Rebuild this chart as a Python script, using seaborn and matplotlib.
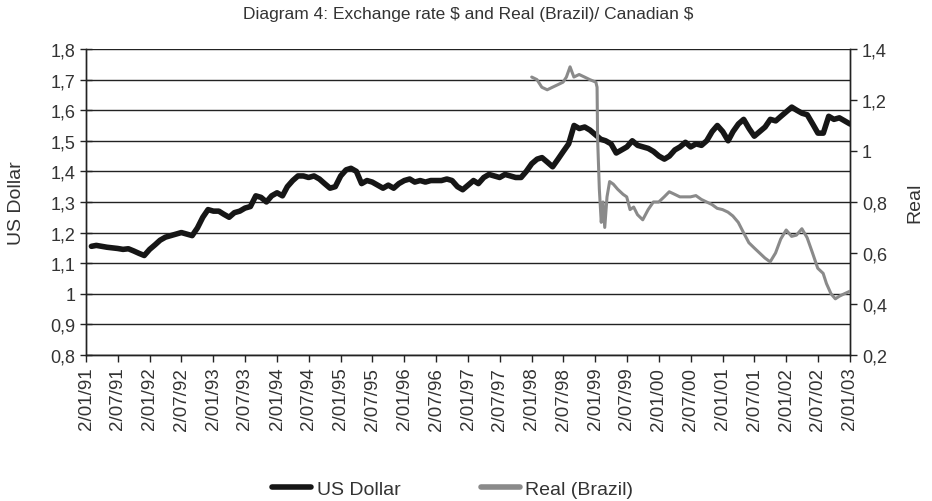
import pandas as pd
import numpy as np
import matplotlib
matplotlib.use("Agg")
import matplotlib.pyplot as plt
import matplotlib.ticker as mticker
import seaborn as sns

# monthly US dollar / Canadian $ values, Jan 1991 .. Jan 2003
usd_values = [
    1.155, 1.158, 1.155, 1.152, 1.150, 1.148, 1.145, 1.147, 1.140, 1.132, 1.125, 1.145,  # 1991
    1.160, 1.175, 1.185, 1.190, 1.195, 1.200, 1.195, 1.190, 1.215, 1.250, 1.275, 1.270,  # 1992
    1.270, 1.260, 1.250, 1.265, 1.270, 1.280, 1.285, 1.320, 1.315, 1.300, 1.320, 1.330,  # 1993
    1.320, 1.350, 1.370, 1.385, 1.385, 1.380, 1.385, 1.375, 1.360, 1.345, 1.350, 1.385,  # 1994
    1.405, 1.410, 1.400, 1.360, 1.370, 1.365, 1.355, 1.345, 1.355, 1.345, 1.360, 1.370,  # 1995
    1.375, 1.365, 1.370, 1.365, 1.370, 1.370, 1.370, 1.375, 1.370, 1.350, 1.340, 1.355,  # 1996
    1.370, 1.360, 1.380, 1.390, 1.385, 1.380, 1.390, 1.385, 1.380, 1.380, 1.400, 1.425,  # 1997
    1.440, 1.445, 1.430, 1.415, 1.440, 1.465, 1.490, 1.550, 1.540, 1.545, 1.535, 1.520,  # 1998
    1.505, 1.500, 1.490, 1.460, 1.470, 1.480, 1.500, 1.485, 1.480, 1.475, 1.465, 1.450,  # 1999
    1.440, 1.450, 1.470, 1.480, 1.495, 1.480, 1.490, 1.485, 1.500, 1.530, 1.550, 1.530,  # 2000
    1.500, 1.530, 1.555, 1.570, 1.540, 1.515, 1.530, 1.545, 1.570, 1.565, 1.580, 1.595,  # 2001
    1.610, 1.600, 1.590, 1.585, 1.555, 1.525, 1.525, 1.580, 1.570, 1.575, 1.565, 1.555,  # 2002
    1.550,                                                                              # 2003
]
usd_dates = pd.date_range("1991-01-02", periods=len(usd_values), freq="MS") + pd.Timedelta(days=1)

real_dates = [
    "1998-01-02", "1998-02-01", "1998-03-01", "1998-04-01", "1998-05-01", "1998-06-01",
    "1998-07-01", "1998-07-20", "1998-08-10", "1998-09-01", "1998-10-01", "1998-11-01",
    "1998-12-01", "1999-01-05", "1999-01-12", "1999-01-15", "1999-01-25", "1999-02-05",
    "1999-02-15", "1999-02-25", "1999-03-10", "1999-03-25", "1999-04-15", "1999-05-10",
    "1999-06-10", "1999-07-01", "1999-07-20", "1999-08-10", "1999-09-01", "1999-10-01",
    "1999-11-01", "1999-12-01", "2000-01-01", "2000-02-01", "2000-03-01", "2000-04-01",
    "2000-05-01", "2000-06-01", "2000-07-01", "2000-08-01", "2000-09-01", "2000-10-01",
    "2000-11-01", "2000-12-01", "2001-01-01", "2001-02-01", "2001-03-01", "2001-04-01",
    "2001-05-01", "2001-06-01", "2001-07-01", "2001-08-01", "2001-09-01", "2001-10-01",
    "2001-11-01", "2001-12-01", "2002-01-01", "2002-02-01", "2002-03-01", "2002-04-01",
    "2002-05-01", "2002-06-01", "2002-07-01", "2002-08-01", "2002-08-20", "2002-09-15",
    "2002-10-10", "2002-11-01", "2002-12-01", "2003-01-02",
]
real_values = [
    1.29, 1.28, 1.25, 1.24, 1.25, 1.26,
    1.27, 1.29, 1.33, 1.29, 1.30, 1.29,
    1.28, 1.27, 1.25, 1.05, 0.85, 0.72,
    0.80, 0.70, 0.82, 0.88, 0.87, 0.85,
    0.83, 0.82, 0.77, 0.78, 0.75, 0.73,
    0.77, 0.80, 0.80, 0.82, 0.84, 0.83,
    0.82, 0.82, 0.82, 0.825, 0.81, 0.80,
    0.79, 0.775, 0.77, 0.76, 0.745, 0.72,
    0.68, 0.64, 0.62, 0.60, 0.58, 0.565,
    0.60, 0.655, 0.69, 0.665, 0.67, 0.695,
    0.66, 0.60, 0.54, 0.52, 0.48, 0.44,
    0.42, 0.43, 0.44, 0.45,
]

usd_df = pd.DataFrame({"date": usd_dates, "value": usd_values})
real_df = pd.DataFrame({"date": pd.to_datetime(real_dates), "value": real_values})

sns.set_style("white")
plt.rcParams["font.family"] = ["Liberation Sans", "DejaVu Sans"]
text_col = "#333333"

fig = plt.figure(figsize=(9.32, 5.02), dpi=100)
ax = fig.add_axes([0.0923, 0.291, 0.8197, 0.6094])
ax2 = ax.twinx()

sns.lineplot(data=usd_df, x="date", y="value", ax=ax, color="#161616", lw=4, zorder=3)
sns.lineplot(data=real_df, x="date", y="value", ax=ax2, color="#8a8a8a", lw=2.2, zorder=3)

ax.set_ylim(0.8, 1.8)
ax.set_yticks(np.arange(0.8, 1.81, 0.1))
ax2.set_ylim(0.2, 1.4)
ax2.set_yticks(np.arange(0.2, 1.41, 0.2))
fmt = mticker.FuncFormatter(lambda v, p: f"{round(v, 2):g}".replace(".", ","))
ax.yaxis.set_major_formatter(fmt)
ax2.yaxis.set_major_formatter(fmt)

ax.yaxis.grid(True, color="#222222", lw=1)
ax.xaxis.grid(False)
ax.set_axisbelow(True)

tick_dates = pd.date_range("1991-01-01", "2003-01-01", freq="6MS") + pd.Timedelta(days=1)
ax.set_xlim(tick_dates[0], tick_dates[-1])
ax.set_xticks(tick_dates)
ax.set_xticklabels([f"{d.day}/{d.month:02d}/{d.year % 100:02d}" for d in tick_dates],
                   rotation=90)

for a in (ax, ax2):
    for s in a.spines.values():
        s.set_color("#222222")
        s.set_linewidth(1)
    a.spines["top"].set_visible(False)
    a.tick_params(axis="both", direction="out", length=5, width=1, color="#222222",
                  labelsize=13, labelcolor=text_col)
ax.tick_params(axis="y", direction="inout", length=8, left=True)
ax.tick_params(axis="x", labelsize=13.5, bottom=True)
ax2.tick_params(axis="y", right=True)

ax.set_xlabel("")
ax.set_ylabel("US Dollar", fontsize=14, color=text_col, labelpad=18)
ax2.set_xlabel("")
ax2.set_ylabel("Real", fontsize=14, color=text_col, labelpad=14)

ax.set_title(r"Diagram 4: Exchange rate \$ and Real (Brazil)/ Canadian \$",
             fontsize=12.5, color=text_col, pad=22)

handles = [plt.Line2D([], [], color="#161616", lw=4),
           plt.Line2D([], [], color="#8a8a8a", lw=4)]
fig.legend(handles, ["US Dollar", "Real (Brazil)"], loc="center",
           bbox_to_anchor=(0.486, 0.024), ncol=2, frameon=False, fontsize=14,
           handlelength=2.0, handletextpad=0.3, columnspacing=4.1, labelcolor=text_col)

fig.savefig("out.png", dpi=100)
